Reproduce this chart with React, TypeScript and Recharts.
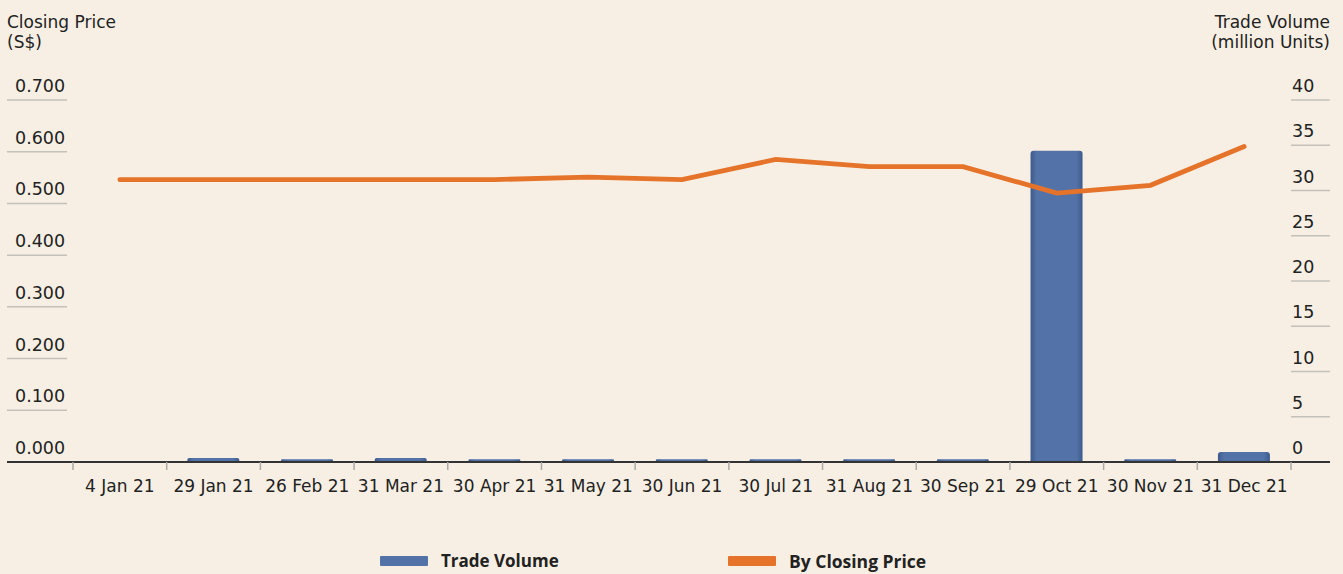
import React from 'react';
import { ComposedChart, Bar, Line, XAxis, YAxis } from 'recharts';

const categories = ['4 Jan 21', '29 Jan 21', '26 Feb 21', '31 Mar 21', '30 Apr 21', '31 May 21', '30 Jun 21', '30 Jul 21', '31 Aug 21', '30 Sep 21', '29 Oct 21', '30 Nov 21', '31 Dec 21'];
const closingPrice = [0.546, 0.546, 0.546, 0.546, 0.546, 0.551, 0.546, 0.585, 0.571, 0.571, 0.52, 0.535, 0.61];
const tradeVolume = [0, 0.45, 0.3, 0.45, 0.3, 0.3, 0.3, 0.3, 0.3, 0.3, 34.4, 0.3, 1.1];
const priceTicks = [0, 0.1, 0.2, 0.3, 0.4, 0.5, 0.6, 0.7];
const volumeTicks = [0, 5, 10, 15, 20, 25, 30, 35, 40];
const leftTitle = ['Closing Price', '(S$)'];
const rightTitle = ['Trade Volume', '(million Units)'];

const data = categories.map((c, i) => ({ date: c, price: closingPrice[i], volume: tradeVolume[i] }));

const W = 1343;
const H = 574;
const PL = 7;
const PR = 1330;
const PT = 100;
const PB = 462;
const FONT = '"DejaVu Sans", "Open Sans", sans-serif';
const LEG_FONT = '"Open Sans", Lato, sans-serif';
const BG = '#f7efe3';
const TXT = '#222';
const ORANGE = '#e5732a';
const BLUE = '#5373a8';

const LeftTick = (props: any) => {
  const { y, payload } = props;
  const isZero = payload.value === 0;
  return (
    <g>
      {!isZero && <line x1={PL} x2={67} y1={y} y2={y} stroke="#c4c0ba" strokeWidth={1.5} />}
      <text x={15} y={y - 8} fontSize={17.5} fill={TXT} fontFamily={FONT} textAnchor="start">
        {Number(payload.value).toFixed(3)}
      </text>
    </g>
  );
};

const RightTick = (props: any) => {
  const { y, payload } = props;
  const isZero = payload.value === 0;
  return (
    <g>
      {!isZero && <line x1={1291} x2={PR} y1={y} y2={y} stroke="#c4c0ba" strokeWidth={1.5} />}
      <text x={1292} y={y - 8} fontSize={17.5} fill={TXT} fontFamily={FONT} textAnchor="start">
        {payload.value}
      </text>
    </g>
  );
};

const XTick = (props: any) => {
  const { x, y, payload } = props;
  const half = payload.offset || 46.8;
  const last = payload.index === categories.length - 1;
  return (
    <g>
      <line x1={x - half} x2={x - half} y1={y} y2={y + 8} stroke="#aaa" strokeWidth={1.5} />
      {last && <line x1={x + half} x2={x + half} y1={y} y2={y + 8} stroke="#aaa" strokeWidth={1.5} />}
      <text x={x} y={y + 30} fontSize={17} fill={TXT} fontFamily={FONT} textAnchor="middle">
        {payload.value}
      </text>
    </g>
  );
};

const titleLine = (txt: string, i: number, side: 'left' | 'right') => (
  <div
    key={txt}
    style={{
      position: 'absolute',
      top: 12 + i * 20,
      height: 20,
      lineHeight: '20px',
      fontSize: 17,
      whiteSpace: 'nowrap',
      ...(side === 'left' ? { left: PL } : { right: W - PR, textAlign: 'right' as const }),
    }}
  >
    {txt}
  </div>
);

export default function App() {
  return (
    <div style={{ position: 'fixed', left: 0, top: 0, width: W, height: H, background: BG, fontFamily: FONT, color: TXT }}>
      {leftTitle.map((t, i) => titleLine(t, i, 'left'))}
      {rightTitle.map((t, i) => titleLine(t, i, 'right'))}
      <ComposedChart
        width={W}
        height={H}
        data={data}
        margin={{ top: PT, right: 0, left: 0, bottom: 0 }}
        barCategoryGap="22%"
      >
        <defs>
          <linearGradient id="barGrad" x1="0" y1="0" x2="1" y2="0">
            <stop offset="0%" stopColor="#3e5a8c" />
            <stop offset="12%" stopColor={BLUE} />
            <stop offset="88%" stopColor={BLUE} />
            <stop offset="100%" stopColor="#3e5a8c" />
          </linearGradient>
        </defs>
        <XAxis
          dataKey="date"
          padding={{ left: 66, right: 39 }}
          axisLine={{ stroke: '#333', strokeWidth: 2 }}
          tickLine={false}
          tickSize={0}
          tickMargin={0}
          tick={<XTick />}
          interval={0}
          height={H - PB}
        />
        <YAxis
          yAxisId="left"
          orientation="left"
          domain={[0, 0.7]}
          ticks={priceTicks}
          width={PL}
          axisLine={false}
          tickLine={false}
          tick={<LeftTick />}
          interval={0}
        />
        <YAxis
          yAxisId="right"
          orientation="right"
          domain={[0, 40]}
          ticks={volumeTicks}
          width={W - PR}
          axisLine={false}
          tickLine={false}
          tick={<RightTick />}
          interval={0}
        />
        <Bar yAxisId="right" dataKey="volume" fill="url(#barGrad)" radius={[3, 3, 0, 0]} isAnimationActive={false} />
        <Line
          yAxisId="left"
          dataKey="price"
          stroke={ORANGE}
          strokeWidth={4.8}
          strokeLinecap="round"
          dot={false}
          activeDot={false}
          type="linear"
          isAnimationActive={false}
        />
      </ComposedChart>
      <div style={{ position: 'absolute', left: 380, top: 556, width: 48, height: 10, background: BLUE, borderRadius: 1 }} />
      <div style={{ position: 'absolute', left: 441, top: 550, fontSize: 17, fontWeight: 700, lineHeight: '22px', fontFamily: LEG_FONT }}>Trade Volume</div>
      <div style={{ position: 'absolute', left: 728, top: 556, width: 48, height: 10, background: ORANGE, borderRadius: 1 }} />
      <div style={{ position: 'absolute', left: 789, top: 550, fontSize: 17.5, fontWeight: 700, lineHeight: '22px', fontFamily: LEG_FONT }}>By Closing Price</div>
    </div>
  );
}
